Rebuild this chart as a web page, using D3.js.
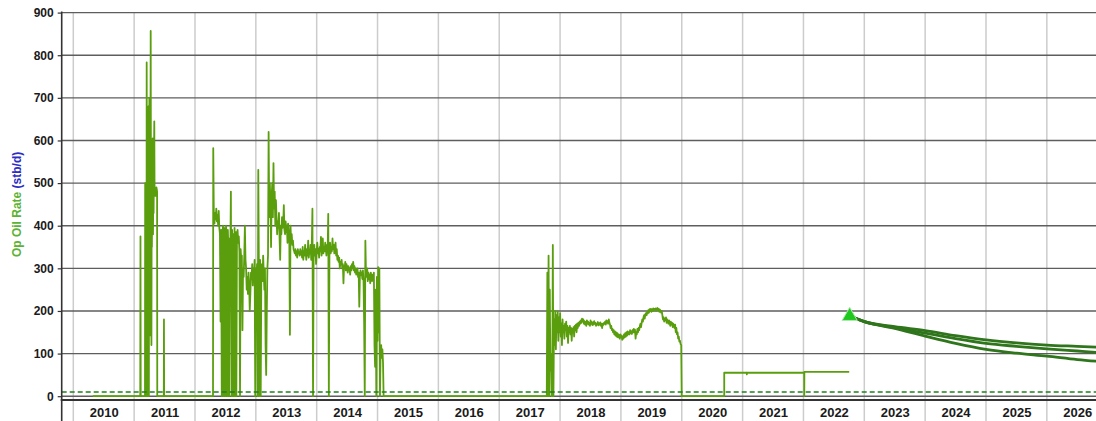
<!DOCTYPE html>
<html>
<head>
<meta charset="utf-8">
<script src="https://cdn.jsdelivr.net/npm/d3@7"></script>
<style>
  html, body { margin: 0; padding: 0; background: #ffffff; }
  svg { display: block; font-family: "Liberation Sans", Arial, sans-serif; }
</style>
</head>
<body>
<svg id="chart" width="1096" height="421"></svg>
<script>
// ---- Axis labels ----
const yearLabels = ["2010","2011","2012","2013","2014","2015","2016","2017","2018",
                    "2019","2020","2021","2022","2023","2024","2025","2026"];
const rateTicks = [0, 100, 200, 300, 400, 500, 600, 700, 800, 900];

// ---- Oil rate history, stb/d ----
// Sparse start-up period: [decimal year, rate]
const history2010 = [
  [2010.32, 0], [2011.100, 0], [2011.104, 375], [2011.108, 0],
  [2011.178, 0], [2011.181, 500], [2011.185, 120], [2011.188, 0], [2011.192, 470],
  [2011.196, 0], [2011.200, 420], [2011.203, 0], [2011.206, 783], [2011.210, 400],
  [2011.214, 0], [2011.218, 620], [2011.222, 300], [2011.226, 0], [2011.230, 560],
  [2011.234, 680], [2011.238, 260], [2011.242, 0], [2011.246, 520], [2011.250, 700],
  [2011.254, 400], [2011.258, 143], [2011.262, 600], [2011.267, 480], [2011.272, 857],
  [2011.276, 500], [2011.280, 300], [2011.284, 120], [2011.288, 450], [2011.292, 350],
  [2011.296, 560], [2011.300, 420], [2011.305, 605], [2011.310, 380], [2011.315, 520],
  [2011.320, 430], [2011.326, 560], [2011.331, 645], [2011.336, 470], [2011.342, 490],
  [2011.348, 480], [2011.354, 488], [2011.360, 470], [2011.366, 490], [2011.372, 485],
  [2011.377, 480], [2011.380, 0], [2011.487, 0], [2011.490, 180], [2011.493, 0],
  [2012.296, 0]
];

// Main production period, sampled every 0.01 year
const period2012Start = 2012.300;
const period2012Step = 0.01;
const rates2012 = [
  582, 420, 405, 430, 415, 440, 410, 425, 400, 435,
  395, 380, 175, 390, 0, 380, 400, 0, 395, 360,
  0, 400, 375, 0, 390, 340, 0, 370, 330, 480,
  0, 390, 0, 380, 0, 395, 0, 385, 0, 380,
  390, 360, 375, 340, 0, 345, 320, 330, 155, 300,
  280, 330, 400, 320, 300, 250, 280, 240, 290, 260,
  200, 240, 290, 275, 310, 260, 300, 285, 320, 0,
  300, 280, 310, 0, 531, 300, 0, 320, 0, 280,
  310, 270, 330, 290, 250, 300, 120, 50, 200, 300,
  330, 620, 420, 500, 450, 350, 470, 500, 420, 547,
  440, 480, 400, 460, 420, 380, 410, 395, 430, 370,
  320, 400, 380, 420, 395, 405, 448, 390, 380, 410,
  385, 400, 360, 405, 390, 370, 144, 400, 360, 380,
  355, 365, 345, 340, 335, 345, 330, 340, 325, 345,
  335, 338, 330, 345, 332, 340, 325, 350, 320, 340,
  330, 355, 335, 320, 345, 330, 365, 325, 340, 335,
  355, 320, 360, 440, 0, 340, 355, 330, 345, 310,
  340, 360, 335, 345, 325, 350, 340, 374, 330, 345,
  370, 335, 350, 340, 360, 345, 330, 355, 340, 428,
  0, 345, 360, 335, 350, 340, 370, 345, 355, 335,
  350, 360, 330, 345, 320, 330, 315, 325, 300, 315,
  310, 320, 300, 310, 265, 305, 300, 315, 295, 310,
  300, 290, 305, 295, 300, 285, 305, 295, 310, 300,
  315, 295, 305, 290, 300, 285, 295, 300, 280, 290,
  210, 280, 295, 285, 290, 275, 295, 270, 170, 0,
  365, 290, 280, 300, 270, 290, 275, 285, 265, 290,
  280, 270, 285, 275, 290, 120, 69, 250, 0, 280,
  130, 303, 150, 300, 0, 100, 120, 90, 110, 80,
  0
];

// Restart period, sampled every 0.01 year
const period2017Start = 2017.781;
const period2017Step = 0.01;
const rates2017 = [
  0, 290, 0, 330, 0, 250, 60, 100, 0, 0,
  355, 0, 180, 120, 200, 110, 190, 150, 200, 130,
  185, 150, 195, 140, 170, 120, 180, 150, 165, 135,
  170, 155, 175, 140, 165, 125, 160, 150, 165, 145,
  160, 130, 158, 150, 162, 140, 165, 155, 168, 150,
  170, 160, 172, 165, 175, 170, 178, 172, 182, 175,
  180, 170, 176, 168, 174, 165, 178, 170, 175, 168,
  172, 165, 178, 170, 174, 167, 173, 168, 176, 170,
  172, 165, 170, 168, 174, 166, 171, 168, 173, 165,
  170, 160, 170, 167, 172, 170, 175, 168, 178, 172,
  176, 170, 180, 172, 168, 160, 165, 155, 158, 150,
  155, 145, 152, 142, 150, 140, 148, 138, 145, 140,
  135, 145, 138, 142, 132, 140, 135, 145, 138, 148,
  140, 150, 142, 152, 145, 150, 145, 155, 148, 152,
  146, 155, 150, 158, 150, 156, 135, 150, 145, 158,
  150, 160, 155, 165, 170, 162, 172, 180, 175, 185,
  190, 182, 192, 195, 190, 198, 194, 202, 196, 204,
  200, 205, 198, 204, 200, 206, 201, 205, 203, 206,
  200, 204, 207, 202, 205, 198, 203, 200, 196, 200,
  190, 180, 185, 175, 182, 178, 185, 172, 180, 175,
  170, 178, 172, 165, 175, 168, 172, 162, 170, 165,
  160, 168, 150, 160, 145, 150, 135, 140, 128, 130,
  122, 120
];

// Shut-in and low-rate period
const history2020 = [
  [2019.999, 0], [2020.698, 0], [2020.698, 55], [2021.068, 55], [2021.070, 51],
  [2021.072, 55], [2022.012, 55], [2022.013, 0], [2022.015, 57], [2022.752, 57]
];

// Economic limit rate
const limitRate = 10;

// ---- Forecast cases ----
const forecastStart = [2022.76, 188];
const forecastYears = [2022.76, 2023.0, 2023.5, 2024.0, 2024.5, 2025.0, 2025.5, 2026.0, 2026.5, 2027.0];
const forecastHigh  = [188, 175, 163, 154, 142, 132, 125, 120, 117, 114];
const forecastMid   = [188, 175, 161, 148, 135, 124, 117, 111, 106, 101];
const forecastLow   = [188, 175, 159, 141, 124, 110, 101, 94, 86, 80];

// ---- Assemble the history series ----
const sampled = (start, step, values) => values.map((v, i) => [start + i * step, v]);
const history = [].concat(
  history2010,
  sampled(period2012Start, period2012Step, rates2012),
  sampled(period2017Start, period2017Step, rates2017),
  history2020
);

// ---- Layout ----
const W = 1096, H = 421;
const plot = { left: 61.7, right: W, top: 12.6, bottom: 396.2, band: 400 };

const x = d3.scaleLinear().domain([2010, 2023]).range([73.3, 864.3]);
const y = d3.scaleLinear().domain([0, 900]).range([plot.bottom, plot.top]);

const svg = d3.select("#chart");

svg.append("defs").append("clipPath").attr("id", "plot-clip")
  .append("rect")
  .attr("x", plot.left).attr("y", 0)
  .attr("width", plot.right - plot.left).attr("height", plot.band);

// Year separators (run through the date band)
const yearStarts = yearLabels.map(d => +d);
svg.append("g").selectAll("line").data(yearStarts).join("line")
  .attr("x1", d => x(d)).attr("x2", d => x(d))
  .attr("y1", plot.top).attr("y2", H)
  .attr("stroke", "#cccccc").attr("stroke-width", 1.5);

// Horizontal rate gridlines
svg.append("g").selectAll("line").data(rateTicks).join("line")
  .attr("x1", plot.left).attr("x2", plot.right)
  .attr("y1", d => y(d)).attr("y2", d => y(d))
  .attr("stroke", "#5e5e5e").attr("stroke-width", 1.4);

const g = svg.append("g").attr("clip-path", "url(#plot-clip)");

// Historical oil rate
const histLine = d3.line().x(d => x(d[0])).y(d => y(d[1]));
g.append("path").datum(history)
  .attr("d", histLine)
  .attr("fill", "none")
  .attr("stroke", "#5a9e0e")
  .attr("stroke-width", 1.8)
  .attr("stroke-linejoin", "round");

// Economic limit
g.append("line")
  .attr("x1", plot.left).attr("x2", plot.right)
  .attr("y1", y(limitRate)).attr("y2", y(limitRate))
  .attr("stroke", "#1f801f").attr("stroke-width", 1.5)
  .attr("stroke-dasharray", "5,3");

// Forecast cases
const fcLine = d3.line().curve(d3.curveMonotoneX)
  .x(d => x(d[0])).y(d => y(d[1]));
[forecastHigh, forecastMid, forecastLow].forEach(vals => {
  const pts = forecastYears.map((yr, i) => [yr, vals[i]]);
  g.append("path").datum(pts)
    .attr("d", fcLine)
    .attr("fill", "none")
    .attr("stroke", "#2f751c")
    .attr("stroke-width", 2.8);
});

// Forecast start marker
g.append("path")
  .attr("d", d3.symbol(d3.symbolTriangle).size(100)())
  .attr("transform", `translate(${x(forecastStart[0])},${y(forecastStart[1])})`)
  .attr("fill", "#1fc71f")
  .attr("stroke", "#aeeaae")
  .attr("stroke-width", 1);

// Date band border
svg.append("line")
  .attr("x1", plot.left - 1).attr("x2", plot.right)
  .attr("y1", plot.band).attr("y2", plot.band)
  .attr("stroke", "#333333").attr("stroke-width", 2);

// Year labels centred in each year
const xAxis = d3.axisBottom(x)
  .tickValues(yearStarts.map(d => d + 0.5))
  .tickFormat((d, i) => yearLabels[i])
  .tickSize(0).tickPadding(8);
const xg = svg.append("g").attr("transform", `translate(0,${plot.band})`).call(xAxis);
xg.select(".domain").remove();
xg.selectAll("text")
  .attr("fill", "#1a1a1a")
  .style("font-size", "13px").style("font-weight", "bold")
  .style("font-family", "'Liberation Sans', Arial, sans-serif");

// Rate axis
const yAxis = d3.axisLeft(y).tickValues(rateTicks).tickSize(4).tickPadding(4);
const yg = svg.append("g").attr("transform", `translate(${plot.left},0)`).call(yAxis);
yg.select(".domain").remove();
yg.selectAll(".tick line").attr("stroke", "#333333").attr("stroke-width", 1.2);
yg.selectAll("text")
  .attr("fill", "#1a1a1a")
  .style("font-size", "12px").style("font-weight", "bold")
  .style("font-family", "'Liberation Sans', Arial, sans-serif");

svg.append("line")
  .attr("x1", plot.left).attr("x2", plot.left)
  .attr("y1", plot.top - 1).attr("y2", H)
  .attr("stroke", "#333333").attr("stroke-width", 1.6);

// Axis title
const title = svg.append("text")
  .attr("transform", `translate(21,${(plot.top + plot.bottom) / 2}) rotate(-90)`)
  .attr("text-anchor", "middle")
  .style("font-size", "12px").style("font-weight", "bold");
title.append("tspan").attr("fill", "#5cb234").text("Op Oil Rate");
title.append("tspan").attr("fill", "#2e2ec4").text(" (stb/d)");
</script>
</body>
</html>
